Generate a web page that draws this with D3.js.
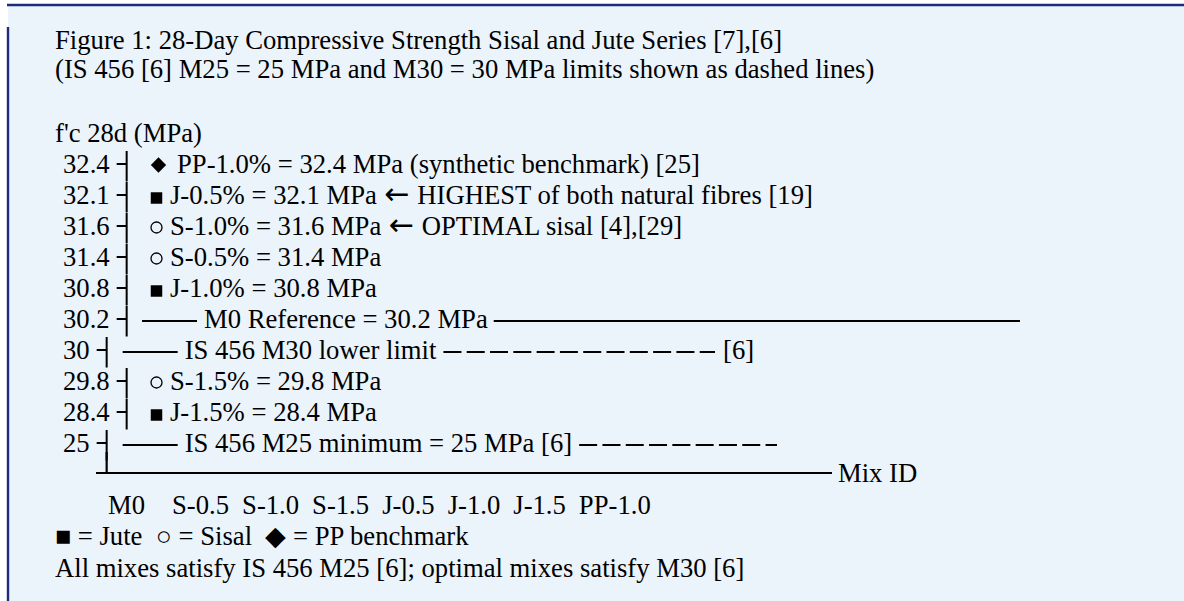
<!DOCTYPE html>
<html>
<head>
<meta charset="utf-8">
<title>28-Day Compressive Strength</title>
<script src="https://d3js.org/d3.v7.min.js"></script>
<style>
  html, body { margin: 0; padding: 0; background: #fff; }
  svg text { font-family: "Liberation Serif", "Times New Roman", serif; font-size: 26.67px; fill: #000; white-space: pre; }
  svg tspan.arrow { font-family: "DejaVu Sans", sans-serif; font-size: 30px; }
</style>
</head>
<body>
<div id="chart"></div>
<script>
// Data
const mixIds = ["M0", "S-0.5", "S-1.0", "S-1.5", "J-0.5", "J-1.0", "J-1.5", "PP-1.0"];
const strength = [30.2, 31.4, 31.6, 29.8, 32.1, 30.8, 28.4, 32.4];
const fibre = ["ref", "sisal", "sisal", "sisal", "jute", "jute", "jute", "pp"];
const notes = ["", "", "← OPTIMAL sisal [4],[29]", "", "← HIGHEST of both natural fibres [19]", "", "", "(synthetic benchmark) [25]"];
const limitNames = ["IS 456 M30 lower limit", "IS 456 M25 minimum = 25 MPa [6]"];
const limitValues = [30, 25];
const limitTails = ["[6]", ""];
const legendText = "■ = Jute  ○ = Sisal  ◆ = PP benchmark";
const noteText = "All mixes satisfy IS 456 M25 [6]; optimal mixes satisfy M30 [6]";
const titleLines = [
  "Figure 1: 28-Day Compressive Strength Sisal and Jute Series [7],[6]",
  "(IS 456 [6] M25 = 25 MPa and M30 = 30 MPa limits shown as dashed lines)"
];
const yTitle = "f'c 28d (MPa)";
const xTitle = "Mix ID";

// Rows: mixes and limits ranked by value
const rows = mixIds.map((m, i) => ({ kind: fibre[i], mix: m, value: strength[i], note: notes[i] }))
  .concat(limitNames.map((n, i) => ({ kind: "limit", name: n, value: limitValues[i], tail: limitTails[i] })))
  .sort((a, b) => b.value - a.value);
rows.forEach(d => d.label = String(d.value));

// Layout
const W = 1184, H = 601;
const ink = "#000";
const svg = d3.select("#chart").append("svg").attr("width", W).attr("height", H);

svg.append("rect").attr("x", 8).attr("y", 5).attr("width", W - 8).attr("height", H - 5).attr("fill", "#ebf3fb");
svg.append("line").attr("x1", 7).attr("x2", W).attr("y1", 5).attr("y2", 5)
  .attr("stroke", "#1f2a7c").attr("stroke-width", 2.4);
svg.append("line").attr("x1", 8).attr("x2", 8).attr("y1", 27).attr("y2", H)
  .attr("stroke", "#1f2a7c").attr("stroke-width", 2.4);

// Title
svg.selectAll(".title").data(titleLines).enter().append("text")
  .attr("class", "title").attr("x", 55).attr("y", (d, i) => 48.7 + i * 29.6).text(d => d);

svg.append("text").attr("x", 55).attr("y", 142).text(yTitle);

// Scales
const y = d3.scalePoint().domain(rows.map(d => d.label)).range([173, 452]);

const textW = s => {
  const t = svg.append("text").text(s);
  const w = t.node().getComputedTextLength();
  t.remove();
  return w;
};

// Draw peripherals: left axis as ┤ ticks
const labelX = 63;
rows.forEach(d => {
  d.axisX = labelX + textW(d.label) + 17;
});

const axis = svg.append("g");
axis.selectAll(".tlabel").data(rows).enter().append("text")
  .attr("x", labelX).attr("y", d => y(d.label)).text(d => d.label);
axis.selectAll(".tick").data(rows).enter().append("line")
  .attr("x1", d => d.axisX - 10).attr("x2", d => d.axisX)
  .attr("y1", d => y(d.label) - 9).attr("y2", d => y(d.label) - 9)
  .attr("stroke", ink).attr("stroke-width", 2);
axis.selectAll(".vseg").data(rows).enter().append("line")
  .attr("x1", d => d.axisX).attr("x2", d => d.axisX)
  .attr("y1", d => y(d.label) - 22).attr("y2", d => y(d.label) + 8.5)
  .attr("stroke", ink).attr("stroke-width", 2);

// Bottom axis line
const last = rows[rows.length - 1];
const axisY = 473;
axis.append("line").attr("x1", last.axisX).attr("x2", last.axisX)
  .attr("y1", y(last.label)).attr("y2", axisY + 1)
  .attr("stroke", ink).attr("stroke-width", 2.2);
axis.append("line").attr("x1", 96).attr("x2", 832).attr("y1", axisY).attr("y2", axisY)
  .attr("stroke", ink).attr("stroke-width", 2.2);
axis.append("text").attr("x", 838).attr("y", 482).text(xTitle);

// Draw data
const markX = 156.5;
const textX = 170;
const shape = {
  pp: d3.symbol(d3.symbolSquare, 118),
  jute: d3.symbol(d3.symbolSquare, 132),
  sisal: d3.symbol(d3.symbolCircle, 95)
};

const pts = rows.filter(d => d.kind === "pp" || d.kind === "jute" || d.kind === "sisal");
svg.selectAll(".mark").data(pts).enter().append("path")
  .attr("d", d => shape[d.kind]())
  .attr("transform", d => {
    const b = y(d.label);
    if (d.kind === "pp") return `translate(${markX + 2},${b - 8}) rotate(45)`;
    if (d.kind === "jute") return `translate(${markX},${b - 6})`;
    return `translate(${markX},${b - 7.5})`;
  })
  .attr("fill", d => d.kind === "sisal" ? "none" : ink)
  .attr("stroke", d => d.kind === "sisal" ? ink : "none")
  .attr("stroke-width", 1.3);

const mtext = svg.selectAll(".mtext").data(pts).enter().append("text")
  .attr("x", d => d.kind === "pp" ? textX + 7 : textX)
  .attr("y", d => y(d.label));
mtext.append("tspan").text(d => `${d.mix}% = ${d.value} MPa `);
mtext.filter(d => d.note.startsWith("←")).append("tspan").attr("class", "arrow").attr("dx", 1).text("←");
mtext.append("tspan").attr("dx", d => d.note.startsWith("←") ? 1 : 0)
  .text(d => d.note.replace("←", ""));

// Reference row
const ref = rows.find(d => d.kind === "ref");
const refY = y(ref.label);
svg.append("line").attr("x1", 142).attr("x2", 197).attr("y1", refY - 7).attr("y2", refY - 7)
  .attr("stroke", ink).attr("stroke-width", 2);
const refText = svg.append("text").attr("x", 204).attr("y", refY).text(`${ref.mix} Reference = ${ref.value} MPa`);
const refEnd = 204 + refText.node().getComputedTextLength();
svg.append("line").attr("x1", refEnd + 6).attr("x2", 1020).attr("y1", refY - 7).attr("y2", refY - 7)
  .attr("stroke", ink).attr("stroke-width", 2);

// Limit rows (dashed)
const dashEnd = { 30: 715, 25: 777 };
rows.filter(d => d.kind === "limit").forEach(d => {
  const b = y(d.label);
  svg.append("line").attr("x1", d.axisX + 16).attr("x2", d.axisX + 71).attr("y1", b - 7).attr("y2", b - 7)
    .attr("stroke", ink).attr("stroke-width", 2);
  const t = svg.append("text").attr("x", d.axisX + 78).attr("y", b).text(d.name);
  const end = d.axisX + 78 + t.node().getComputedTextLength();
  svg.append("line").attr("x1", end + 7).attr("x2", dashEnd[d.value]).attr("y1", b - 7).attr("y2", b - 7)
    .attr("stroke", ink).attr("stroke-width", 2).attr("stroke-dasharray", "18 5.3");
  if (d.tail) svg.append("text").attr("x", dashEnd[d.value] + 8).attr("y", b).text(d.tail);
});

// Mix ID tick labels
let cx = 108;
const mixG = svg.append("g");
mixIds.forEach((m, i) => {
  mixG.append("text").attr("x", cx).attr("y", 514).text(m);
  cx += textW(m) + (i === 0 ? 27 : 13);
});

// Legend and note
svg.append("text").attr("x", 55).attr("y", 545).text(legendText);
svg.append("text").attr("x", 55).attr("y", 577).text(noteText);
</script>
</body>
</html>
